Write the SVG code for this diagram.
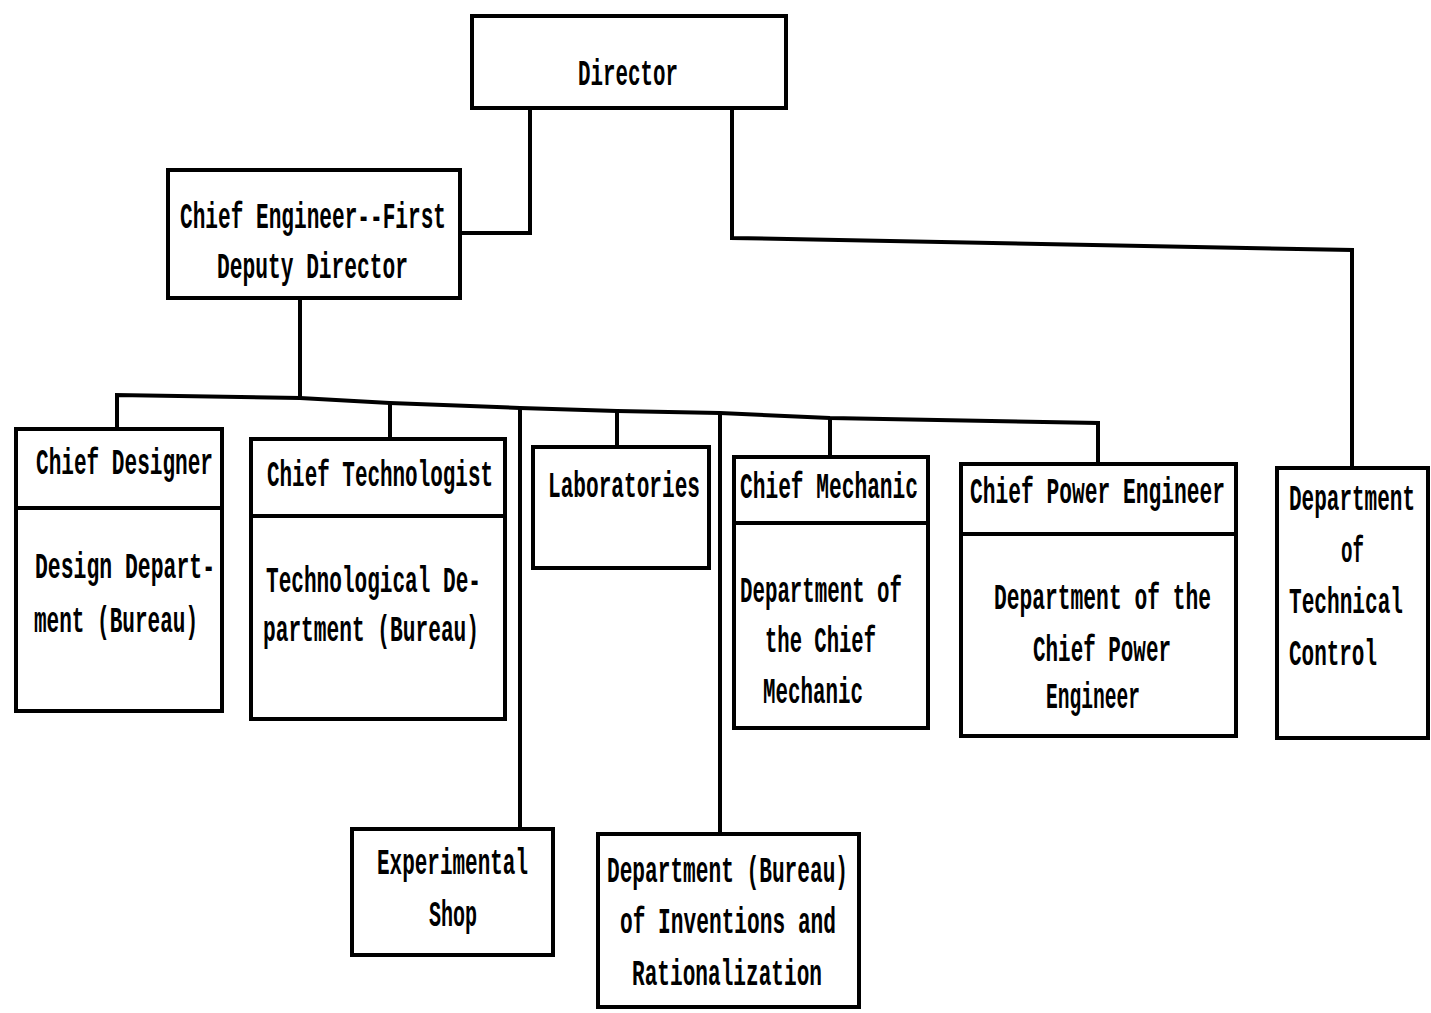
<svg xmlns="http://www.w3.org/2000/svg" width="1431" height="1013" viewBox="0 0 1431 1013">
<style>
.box{fill:#fff;stroke:#000;stroke-width:4}
.div{stroke:#000;stroke-width:4;fill:none}
.con{stroke:#000;stroke-width:4;fill:none;stroke-linejoin:miter}
text{font-family:"Liberation Mono","DejaVu Sans Mono",monospace;font-weight:bold;font-size:36px;fill:#000}
</style>
<rect width="1431" height="1013" fill="#fff"/>
<g id="connectors">
<path class="con" d="M530,108 V233 H460"/>
<path class="con" d="M732,108 V238 L1352,250 V468"/>
<path class="con" d="M300,298 V397"/>
<path class="con" d="M117,429 V395 L300,398 L390,403 L520,408 L617,411 L720,413 L830,418 L1098,423 V464"/>
<path class="con" d="M390,403 V439"/>
<path class="con" d="M520,408 V829"/>
<path class="con" d="M617,411 V447"/>
<path class="con" d="M720,413 V834"/>
<path class="con" d="M830,418 V457"/>
</g>
<g id="director">
<rect class="box" x="472" y="16" width="314" height="92"/>
<text x="578" y="85" textLength="100" lengthAdjust="spacingAndGlyphs">Director</text>
</g>
<g id="chief-engineer">
<rect class="box" x="168" y="170" width="292" height="128"/>
<text x="180" y="228" textLength="266" lengthAdjust="spacingAndGlyphs">Chief Engineer--First</text>
<text x="217" y="278" textLength="191" lengthAdjust="spacingAndGlyphs">Deputy Director</text>
</g>
<g id="chief-designer">
<rect class="box" x="16" y="429" width="206" height="282"/>
<line class="div" x1="16" y1="508" x2="222" y2="508"/>
<text x="36" y="474" textLength="177" lengthAdjust="spacingAndGlyphs">Chief Designer</text>
<text x="35" y="578" textLength="180" lengthAdjust="spacingAndGlyphs">Design Depart-</text>
<text x="34" y="632" textLength="164" lengthAdjust="spacingAndGlyphs">ment (Bureau)</text>
</g>
<g id="chief-technologist">
<rect class="box" x="251" y="439" width="254" height="280"/>
<line class="div" x1="251" y1="516" x2="505" y2="516"/>
<text x="267" y="486" textLength="226" lengthAdjust="spacingAndGlyphs">Chief Technologist</text>
<text x="266" y="592" textLength="215" lengthAdjust="spacingAndGlyphs">Technological De-</text>
<text x="263" y="641" textLength="216" lengthAdjust="spacingAndGlyphs">partment (Bureau)</text>
</g>
<g id="laboratories">
<rect class="box" x="533" y="447" width="176" height="121"/>
<text x="548" y="497" textLength="152" lengthAdjust="spacingAndGlyphs">Laboratories</text>
</g>
<g id="chief-mechanic">
<rect class="box" x="734" y="457" width="194" height="271"/>
<line class="div" x1="734" y1="523" x2="928" y2="523"/>
<text x="740" y="498" textLength="178" lengthAdjust="spacingAndGlyphs">Chief Mechanic</text>
<text x="740" y="602" textLength="162" lengthAdjust="spacingAndGlyphs">Department of</text>
<text x="765" y="652" textLength="111" lengthAdjust="spacingAndGlyphs">the Chief</text>
<text x="763" y="703" textLength="100" lengthAdjust="spacingAndGlyphs">Mechanic</text>
</g>
<g id="chief-power-engineer">
<rect class="box" x="961" y="464" width="275" height="272"/>
<line class="div" x1="961" y1="534" x2="1236" y2="534"/>
<text x="970" y="503" textLength="255" lengthAdjust="spacingAndGlyphs">Chief Power Engineer</text>
<text x="994" y="609" textLength="217" lengthAdjust="spacingAndGlyphs">Department of the</text>
<text x="1033" y="661" textLength="138" lengthAdjust="spacingAndGlyphs">Chief Power</text>
<text x="1046" y="708" textLength="94" lengthAdjust="spacingAndGlyphs">Engineer</text>
</g>
<g id="technical-control">
<rect class="box" x="1277" y="468" width="151" height="270"/>
<text x="1289" y="510" textLength="126" lengthAdjust="spacingAndGlyphs">Department</text>
<text x="1341" y="562" textLength="23" lengthAdjust="spacingAndGlyphs">of</text>
<text x="1289" y="613" textLength="114" lengthAdjust="spacingAndGlyphs">Technical</text>
<text x="1289" y="665" textLength="88" lengthAdjust="spacingAndGlyphs">Control</text>
</g>
<g id="experimental-shop">
<rect class="box" x="352" y="829" width="201" height="126"/>
<text x="377" y="874" textLength="151" lengthAdjust="spacingAndGlyphs">Experimental</text>
<text x="429" y="926" textLength="48" lengthAdjust="spacingAndGlyphs">Shop</text>
</g>
<g id="inventions">
<rect class="box" x="598" y="834" width="261" height="173"/>
<text x="607" y="882" textLength="241" lengthAdjust="spacingAndGlyphs">Department (Bureau)</text>
<text x="620" y="933" textLength="216" lengthAdjust="spacingAndGlyphs">of Inventions and</text>
<text x="632" y="985" textLength="190" lengthAdjust="spacingAndGlyphs">Rationalization</text>
</g>
</svg>
